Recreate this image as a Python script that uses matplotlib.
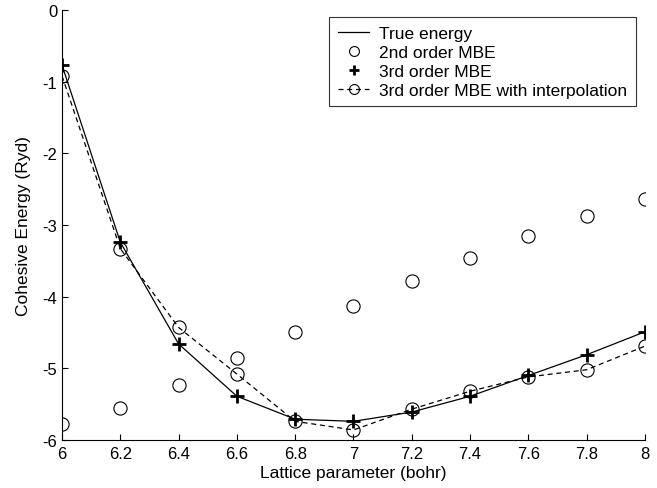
import matplotlib
matplotlib.use("Agg")
import matplotlib.pyplot as plt

lattice = [6.0, 6.2, 6.4, 6.6, 6.8, 7.0, 7.2, 7.4, 7.6, 7.8, 8.0]
true_energy = [-0.77, -3.24, -4.66, -5.39, -5.71, -5.74, -5.61, -5.39, -5.10, -4.81, -4.49]
mbe2 = [-5.78, -5.55, -5.23, -4.86, -4.50, -4.13, -3.78, -3.46, -3.16, -2.88, -2.64]
mbe3 = [-0.77, -3.24, -4.66, -5.39, -5.71, -5.74, -5.61, -5.39, -5.10, -4.81, -4.49]
mbe3_interp = [-0.92, -3.33, -4.43, -5.08, -5.74, -5.86, -5.57, -5.32, -5.12, -5.02, -4.69]

xticks = [6, 6.2, 6.4, 6.6, 6.8, 7, 7.2, 7.4, 7.6, 7.8, 8]
xticklabels = ["6", "6.2", "6.4", "6.6", "6.8", "7", "7.2", "7.4", "7.6", "7.8", "8"]
yticks = [0, -1, -2, -3, -4, -5, -6]
yticklabels = ["0", "-1", "-2", "-3", "-4", "-5", "-6"]

plt.rcParams['font.family'] = ['Liberation Sans', 'DejaVu Sans']
plt.rcParams['font.size'] = 12

fig = plt.figure(figsize=(6.57, 4.89), dpi=100)
ax = fig.add_axes([0.0944, 0.0982, 0.8873, 0.8793])

ax.plot(lattice, true_energy, '-', color='black', lw=0.9, label='True energy')
ax.plot(lattice, mbe2, 'o', ls='none', mfc='none', mec='black', ms=9.5, mew=0.8,
        label='2nd order MBE')
ax.plot(lattice, mbe3, '+', ls='none', color='black', ms=10, mew=2.0,
        label='3rd order MBE')
ax.plot(lattice, mbe3_interp, '--o', color='black', lw=0.9, dashes=(4, 3),
        mfc='none', mec='black', ms=9.5, mew=0.8,
        label='3rd order MBE with interpolation')

ax.set_xlim(6, 8)
ax.set_ylim(-6, 0)
ax.set_xticks(xticks)
ax.set_xticklabels(xticklabels)
ax.set_yticks(yticks)
ax.set_yticklabels(yticklabels)
ax.tick_params(direction='in', length=4, width=0.8, labelsize=12)
ax.tick_params(axis='y', pad=3.5)
ax.tick_params(axis='x', pad=4)
ax.spines['top'].set_visible(False)
ax.spines['right'].set_visible(False)
ax.spines['left'].set_linewidth(0.8)
ax.spines['bottom'].set_linewidth(0.8)
ax.set_xlabel('Lattice parameter (bohr)', fontsize=12.5, labelpad=3)
ax.set_ylabel('Cohesive Energy (Ryd)', fontsize=12.5)
ax.yaxis.set_label_coords(-0.053, 0.5)

leg = ax.legend(loc='upper right', bbox_to_anchor=(0.9846, 0.9837), frameon=True,
                fancybox=False, edgecolor='black', fontsize=12.5,
                handlelength=1.8, handletextpad=0.57, borderpad=0.5,
                labelspacing=0.22, borderaxespad=0, markerscale=0.75)
leg.get_frame().set_linewidth(0.8)

fig.savefig('out.png', dpi=100)
